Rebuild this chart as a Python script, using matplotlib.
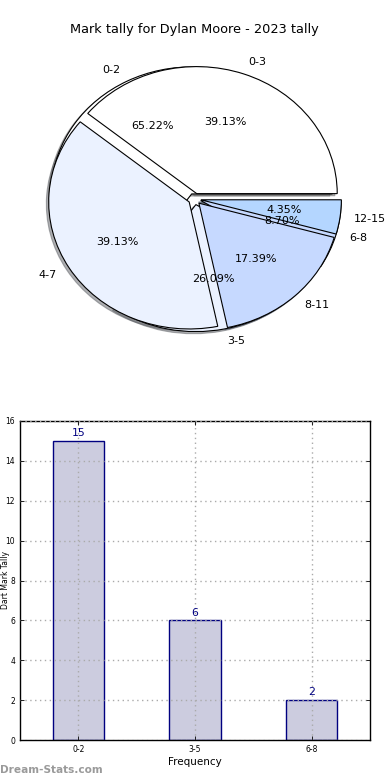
import matplotlib
matplotlib.use("Agg")
import matplotlib.pyplot as plt

# ---- data ----
title = "Mark tally for Dylan Moore - 2023 tally"
pie_a_labels = ["0-3", "4-7", "8-11", "12-15"]
pie_a_values = [9, 9, 4, 1]
pie_b_labels = ["0-2", "3-5", "6-8"]
pie_b_values = [15, 6, 2]
bar_categories = ["0-2", "3-5", "6-8"]
bar_values = [15, 6, 2]
y_ticks = [0, 2, 4, 6, 8, 10, 12, 14, 16]
xlabel = "Frequency"
ylabel = "Dart Mark Tally"
watermark = "Dream-Stats.com"

pie_colors = ["white", "#ebf2ff", "#c6d9ff", "#b4d6ff"]

W, H = 390, 780
fig = plt.figure(figsize=(3.9, 7.8), dpi=100)

# ---- pie axes (elliptical, classic look) ----
cx, cy, rx, ry = 194.6, 199.0, 140.5, 127.0
lim = 1.25
left = (cx - lim * rx) / W
width = 2 * lim * rx / W
top = cy - lim * ry
height = 2 * lim * ry / H
bottom = (H - (top + 2 * lim * ry)) / H
axp = fig.add_axes([left, bottom, width, height])

expl = 0.045
wp = dict(edgecolor="black", linewidth=0.8)
tp = dict(fontsize=8, color="black")
sh = dict(ox=-0.012, oy=-0.012, shade=0.6)
axp.pie(pie_b_values, labels=pie_b_labels, colors=pie_colors[:3],
        explode=[expl] * len(pie_b_values), autopct="%.2f%%",
        shadow=sh, startangle=0, wedgeprops=wp, textprops=tp)
axp.pie(pie_a_values, labels=pie_a_labels, colors=pie_colors,
        explode=[expl] * len(pie_a_values), autopct="%.2f%%",
        shadow=sh, startangle=0, wedgeprops=wp, textprops=tp)
axp.set_aspect("auto")
axp.set_xlim(-lim, lim)
axp.set_ylim(-lim, lim)
axp.axis("off")

fig.text(194.5 / W, 1 - 30 / H, title, ha="center", va="center", fontsize=9.3)

# ---- bar axes ----
axb = fig.add_axes([20 / W, 40 / H, 350 / W, 319 / H])
xs = list(range(len(bar_categories)))
axb.bar(xs, bar_values, width=0.44, color="#ccccdf", edgecolor="#000080",
        linewidth=1.0, zorder=2)
for x, v in zip(xs, bar_values):
    axb.annotate(str(v), (x, v), xytext=(0, 2), textcoords="offset points",
                 ha="center", va="bottom", color="#000080", fontsize=7.8)
axb.set_xlim(-0.5, len(bar_categories) - 0.5)
axb.set_ylim(0, 16)
axb.set_yticks(y_ticks)
axb.set_xticks(xs)
axb.set_xticklabels(bar_categories)
axb.tick_params(axis="both", direction="in", top=True, right=True,
                labelsize=5.5, length=3, width=0.6)
axb.grid(True, linestyle=(0, (1, 2.5)), color="#aaaaaa", linewidth=1.0, zorder=3)
axb.set_axisbelow(False)
for s in axb.spines.values():
    s.set_linewidth(1.0)
axb.set_xlabel(xlabel, fontsize=7.5, labelpad=2)

fig.text(1 / W, 1 - 580 / H, ylabel, rotation=90, ha="left", va="center",
         fontsize=5.5)

fig.text(0 / W, 1 - 770 / H, watermark, ha="left", va="center",
         fontsize=7.6, color="#9a9a9a", fontweight="bold")

fig.savefig("out.png", dpi=100)
